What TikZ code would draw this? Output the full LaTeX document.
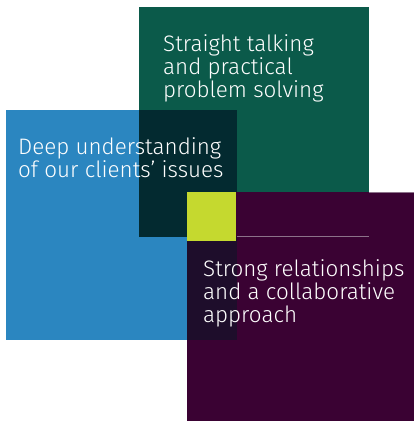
\documentclass[tikz,border=0pt]{standalone}
\usepackage{fontspec}
\setmainfont{Fira Sans}[UprightFont=* Light]
\definecolor{cgreen}{HTML}{0B5A4A}
\definecolor{cblue}{HTML}{2B86C0}
\definecolor{cdark}{HTML}{032A30}
\definecolor{clime}{HTML}{C5D92F}
\definecolor{cpurple}{HTML}{3A0233}
\definecolor{cbp}{HTML}{1E0D2B}
\definecolor{cedge}{HTML}{8C728A}
\tikzset{
  label text/.style={anchor=base west, align=left, inner sep=0pt, text=white,
    font=\fontsize{22.4}{23}\selectfont},
  edge line/.style={draw=cedge, line width=0.8pt}
}
\begin{document}
\begin{tikzpicture}[x=1pt,y=-1pt]
\useasboundingbox[fill=white] (0,0) rectangle (414,421);
\fill[cgreen] (139,7) rectangle (369,237);
\fill[cblue] (6,110) rectangle (237,340);
\fill[cdark] (139,110) rectangle (237,237);
\fill[cpurple] (187,192) rectangle (414,421);
\fill[cbp] (187,237) rectangle (237,340);
\fill[clime] (187,192) rectangle (236,241);
\draw[edge line] (237,236.5) -- (369,236.5);
\draw[edge line] (369,192.4) -- (414,192.4);
% anchor is the baseline of the last line
\node[label text] (g) at (163,97) {Straight talking\\and practical\\problem solving};
\node[label text] (b) at (18,177) {Deep understanding\\of our clients’ issues};
\node[label text] (p) at (203,322) {Strong relationships\\and a collaborative\\approach};
\end{tikzpicture}
\end{document}
